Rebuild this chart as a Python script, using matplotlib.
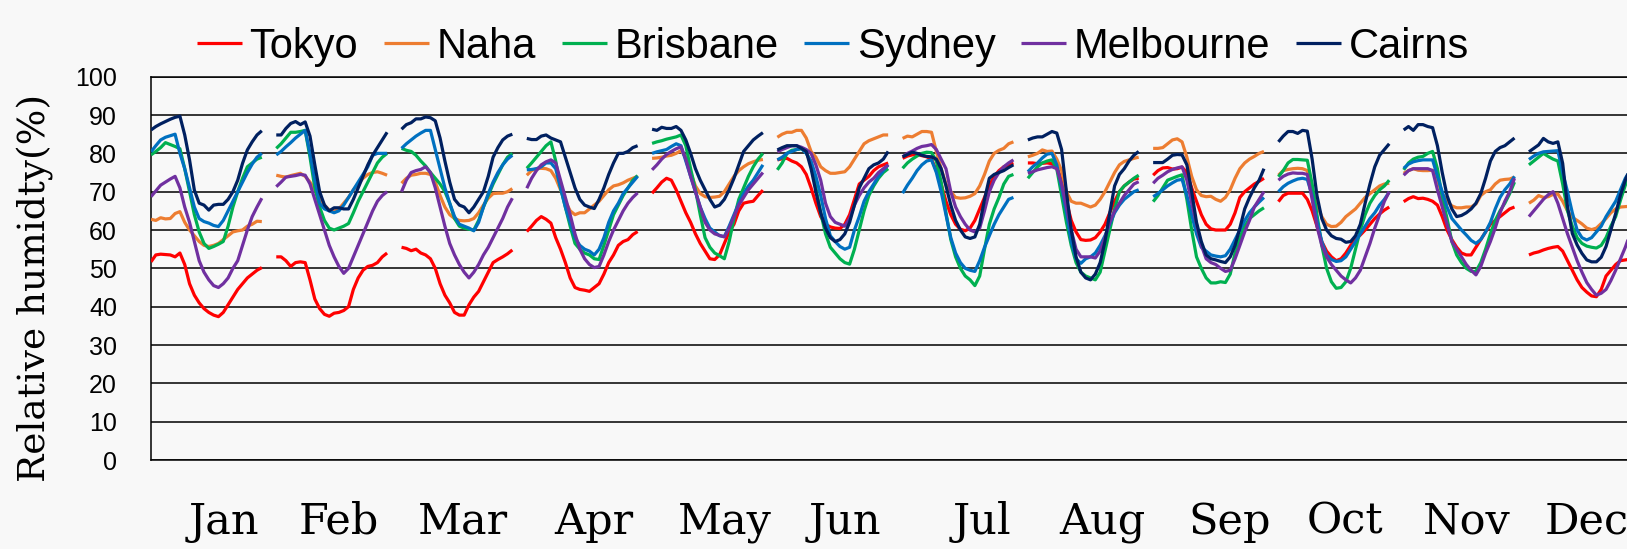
import numpy as np
import matplotlib
matplotlib.use("Agg")
import matplotlib.pyplot as plt

months = ["Jan", "Feb", "Mar", "Apr", "May", "Jun", "Jul", "Aug", "Sep", "Oct", "Nov", "Dec"]
cities = ["Tokyo", "Naha", "Brisbane", "Sydney", "Melbourne", "Cairns"]
colors = ["#FF0000", "#ED7D31", "#00B050", "#0070C0", "#7030A0", "#002060"]

# hourly relative humidity (24 values per month)
tokyo = [
    [51.7,53.5,53.7,53.6,53.5,53,54,51,46,43,41,39.5,38.5,37.8,37.4,38.5,40.5,42.5,44.5,46,47.5,48.5,49.5,50.2],
    [53,53,52,50.5,51.5,51.7,51.5,47,42,39.5,38,37.5,38.3,38.5,39,40,44.5,47.5,49.5,50.5,50.8,51.5,53,54],
    [55.5,55.2,54.6,55,54,53.5,52.5,50,46,43,41,38.5,37.8,37.8,40.5,42.5,44,46.5,49,51.5,52.3,53,53.8,54.8],
    [59.6,61,62.5,63.5,62.8,61.8,58,55,51.5,47.5,45,44.5,44.3,44,45,46,48.5,51.5,53.5,56,57,57.5,58.8,59.6],
    [69.6,71,72.5,73.5,73,70.5,67.5,64.5,62,59,56.5,54.5,52.5,52.3,53.5,56.5,59.5,61.5,65,67,67.3,67.5,69,70.4],
    [78.3,78.6,78.7,78,77.5,76.5,74.5,71,67,63.5,61.5,60.8,60.5,60.4,61.5,64,68,72,73,74,75.5,76.5,77,77.5],
    [78.7,79.3,79.6,79.7,79.4,79.1,78.5,75.5,72,67.5,64,61.5,60.2,59.8,60.5,62.5,65.5,68.5,71.5,74,75.5,76.5,77,77.5],
    [77.5,77.5,77.3,77.4,77.5,77.3,76.5,73,67.5,62.5,59.5,57.5,57.3,57.4,58,59.5,61.5,64.5,67.5,70,71.5,72.5,73.3,73.5],
    [74.3,75.5,76.2,76.3,75.9,76,76.4,75,71,67.5,64,61.5,60.3,60,60,60,61.5,64.5,68.5,70,71,72,72.7,73.5],
    [67.4,69,69.6,69.6,69.6,69.6,68,65,61,57,54.5,53,52,52.5,54,56,57.5,58.7,60,61.5,63,64.2,65.2,66],
    [67.4,68.2,68.7,68.2,68.3,68,67.5,66.5,63.5,60,57.5,55.5,54,53.5,53.5,55.5,57.5,59.5,61.5,62.5,63.5,64.5,65.5,66],
    [53.5,54,54.3,54.8,55.2,55.5,55.7,54.5,52,49.5,47,45,43.8,42.8,42.6,44.5,48,49.5,51,52,52.2,52.4,52.6,53],
]
naha = [
    [62.8,62.5,63.2,62.9,63,64.3,64.8,62,60,58.5,57,56,55.7,56,56.5,57.5,58.5,59.5,59.8,60,61,61.5,62.3,62.2],
    [74.3,74,73.8,74.2,74.5,74.8,74,72.5,70.5,68.5,66.5,65.2,65,65.5,67,68.5,70.5,72,73.5,74.5,75,75.2,74.8,74.3],
    [72.2,73.5,74.3,74.5,74.8,74.8,74.5,72.5,69,66,64,63,62.5,62.4,62.5,63,64.5,66.5,68.3,69.5,69.6,69.6,70,70.8],
    [74.3,75.5,76,76.1,76,75.5,73.5,70.5,67.5,65,64,64.5,64.5,65.5,66.5,67.5,69,70.5,71.5,71.8,72.3,73,73.5,74],
    [78.7,78.8,79,79.3,79.5,80,80.7,79,75,71.5,69.5,68.7,68.5,68.6,68.8,70,72,74,75.5,76.5,77.3,77.8,78.2,78.4],
    [84.2,85,85.5,85.5,86,86,84,80.5,79,76.5,75.5,74.8,74.8,75,75.2,76.5,78.5,80.5,82.5,83.3,83.8,84.3,84.8,84.8],
    [83.9,84.5,84.3,85,85.7,85.7,85.5,80.5,76,72,70,68.5,68.3,68.4,68.8,69.5,71.5,74.5,78,80,80.8,81.3,82.5,83],
    [79.1,79.5,80,80.9,80.5,80.6,78.5,75.5,70,67.5,67,67,66.5,66,66.5,68,70,72.5,75,77,77.9,78.3,78.7,79],
    [81.3,81.3,81.5,82.5,83.5,83.8,83,79,74,70.5,69,68.7,68.8,68,67.5,68.5,70.5,73.5,76,77.5,78.5,79.2,80,80.5],
    [74.3,75.5,75.8,76,76.1,76,75.5,70,66.5,63.5,61.5,60.9,61,62,63.5,64.5,65.5,67,68.5,69.5,70.5,71.5,72,72.2],
    [74.8,75.5,76,75.6,75.5,75.5,75.6,73,69.5,67.5,66.3,65.8,65.8,66,66,66.8,69,70,70.5,72,73,73.2,73.3,73.8],
    [67,67.8,69,68.5,68.7,69.3,69.4,67.5,65,63.3,62.5,61.6,60.5,60.1,60.5,61.7,63,64.5,65.5,66,66.1,66.2,66.3,66.5],
]
brisbane = [
    [79.6,80.5,81.5,82.8,82.3,81.8,81.2,76,70,64,59.5,56.5,55.2,55.7,56.3,57,61,66,70,73.5,76.5,77.5,78.5,79],
    [81.3,82.5,84,85.5,85.5,85.7,86,79,71,66,62.5,60.5,60,60.5,61,61.7,64.5,67.5,70,72.5,75,77.5,79,80],
    [81.3,80.8,80.5,79.5,78,76.7,75,73.5,72,70,67,63,61,60.5,60.2,60,62.5,66,69,72,74.5,77,79,80],
    [76.1,77.5,79,80.5,82,83,78,71,66,61,56.5,55,54,53.5,52.5,52.3,56,60,64,66.5,69,71,73,74.2],
    [82.6,83,83.3,83.7,84,84.3,84.8,82,76,70.5,64,58,55.5,54,53.3,52.5,57,63,68,71,74,76.5,78.5,80],
    [75.7,77.5,80,80.8,81,81.2,80.2,77.5,71,64.5,59,55.5,54,52.5,51.5,51.1,55,60,65,69,71.5,73.5,75,76],
    [76.1,77.5,78.5,79.3,80,80.3,80.2,78,72.5,64.5,57.5,53,50,48,47,45.5,48,55,61.5,65.5,68.5,72,74,74.5],
    [73.5,75,76.5,77.5,78,78.3,76,69,62,56,51.5,49,48,47.5,47,49,54.5,60,65.5,70,71.5,72.5,73.5,74.3],
    [67.4,69,71,73,73.5,74,74.4,68,60,53,50,47.5,46.2,46.2,46.5,46.3,48.5,54,58,61,63,64,65,65.8],
    [73.9,75.5,77.5,78.4,78.4,78.3,78.2,72,64,56,50,46.5,44.8,45,46.5,50,55,60,64,67,69,70.5,71.5,73],
    [75.7,77.5,78.5,79,79.2,80,80.5,76,68.5,63,57,53.5,51.5,50,49.2,49.2,51.5,55,59,62.5,65,67,69.5,72.5],
    [77,78,79,80,79.2,78.5,78,72,65,61,58,56.5,55.8,55.5,55.3,56,58,61,63.5,67.8,71.7,74,76,77.5],
]
sydney = [
    [80.4,82,83.5,84.2,84.6,85,80,76,71,66,63,62.2,61.8,61.2,60.9,62.5,65,67.5,70,72.5,75,77.2,79,80],
    [79.6,80.5,81.7,82.8,84,85,86,80,73,67,65.5,65,64.5,65,66.5,68.5,70.5,72.5,74.5,76.5,79.5,80,80,80],
    [81.3,82.5,83.5,84.5,85.3,86,86,81,76,71,67,63.5,61.5,61,60.5,59.8,62,66,69.5,72.5,75,77,78.5,79.5],
    [75.7,75.8,76,76.5,77.5,77.5,76,71,66,62,58,56,55,54.5,53.5,55,58,62,65,67,69.5,71,72.5,74],
    [80,80.4,80.7,81,81.8,82.5,82,78,74,70,66,63,60.5,59.5,58.5,58.3,61,64,67,69.5,71.5,73,75,77],
    [78.3,79,80,80.5,81,81.3,80,78,74,69,63,58.5,57,55.7,55,55.5,60,63.5,67.5,70,72,74,75.5,77],
    [69.6,71.7,73.5,75.5,77,78,78.3,75,70,64,58,54,51.5,50,49.5,49.2,52,55.5,58.5,61.5,64,66,68,68.5],
    [75.2,76.5,77.5,78.8,79.8,80,77,71,64.5,57,52.5,51.3,52.5,53,54,56,58.5,61.5,64.5,66.5,68,69,70,70.5],
    [68.7,69.5,70.5,71.5,72.3,73,73.2,69,64,59,55.5,54.5,53.5,53.2,53,53.3,55,57.5,60,62.5,64.5,66,67.3,68.5],
    [70,71.3,72.2,72.8,73.3,73.5,73.2,69,62.5,57,53.5,52.3,51.8,52,53,55,57,59,61,63,64.5,66.5,68,69.9],
    [76.1,77.2,77.8,78.1,78.3,78.3,78.3,74,70,66,63,61.5,60,58.7,57.3,56.5,57.5,59.5,62,65.5,68.5,70.5,72,74],
    [78.4,79.3,80,80.4,80.5,80.6,80.7,75,70,64.5,60,58,57.4,58,59.5,61,63.5,65.5,67.5,70.5,73.5,75.5,77,78],
]
melbourne = [
    [68.7,70.2,71.7,72.5,73.3,74,71,66,62,57,52,49,47,45.5,45,46,47.5,50,52,56,60,63.5,66,68.3],
    [71.3,72.5,73.8,74,74.2,74.5,74.3,72,68,64,60,56,53,50.5,48.7,50,53,56,59,62,65,67.5,69,70],
    [70,73,75,75.5,75.8,76.5,75,71,66,61,56.5,53.5,51,49,47.5,49,51,53.5,55.5,58,60.5,63,66,68.3],
    [70.9,73.5,75.5,77,77.8,78.3,77.5,73,68.5,64,59,55,52.5,51,50.2,50.5,53.5,57,60,62.5,65,67,68.5,69.7],
    [75.7,77,78.5,79.7,80.5,81.2,81.7,78.5,74,70,66,62,60,59,58.6,58.2,60.5,63.5,66.5,68.5,70.5,72,73.5,75],
    [80.4,81,81.5,82,82,81.6,81,80,77,73,67,63.5,62,61.5,61,63,66.5,69,71,72.5,73.5,75,76,77],
    [79.1,80,80.6,81.3,81.8,82,82.3,81,78.5,76,70,66,63.5,61.5,60,59.5,60.5,65,70,73,75,76.5,77.5,78.3],
    [74.8,75.2,75.7,76,76.3,76.5,76,72,66,60,55,53,53,53,52.7,54.5,58,62,65,67,69,70.5,72,72.6],
    [72.2,73.5,74.3,75.2,75.8,76.2,76.5,73,67,61.5,56,52.5,51.5,51,50,49.2,49.5,52.5,56,59.5,62.5,66,68,70],
    [73,74,74.6,74.9,74.8,74.8,74.5,68,61,56,53,51,49.5,48,47,46.2,47.5,49.5,53,56.5,60.5,64,67.5,70],
    [74.3,75.5,76,76,76,76,75.5,70.5,66,61.5,57,55,53,51,49.5,48.3,50.5,54,57,60.5,64.5,67.5,70,73.5],
    [63.5,65,66.5,68,69.2,70,67,63,59,55.5,52,49,46.3,44.5,43,43.5,44.5,46.8,49.5,52.5,55.5,59,62,65],
]
cairns = [
    [86.1,87,87.7,88.3,88.9,89.4,89.7,84.8,78.3,70.4,67,66.5,65.2,66.5,66.7,66.7,68,70,73,77.4,80.9,83,84.8,85.9],
    [84.8,84.8,86.5,87.8,88.3,87.5,88.2,84.5,77,70,66.5,65,65.8,65.8,65.5,65.5,68,71,74,77,79.5,81.5,83.5,85.5],
    [86.3,87.5,88,89,89,89.5,89.3,88.5,84,78,72.5,68,66.5,66,64.5,66,68,70,74,79,81.5,83.5,84.5,85],
    [83.9,83.6,83.6,84.5,84.8,84,83.5,83,79,75,71,68,66.5,66,65.6,68,71,74.5,77.5,80,80,80.5,81.5,82],
    [86.3,86,86.8,86.5,86.5,87,86,83.5,80,76,73,70.5,68,66,66.5,68,70.5,73.5,77,80.5,82,83.5,84.5,85.4],
    [80.9,81.5,82,82,82,81.3,80.5,76,70,64.5,60.5,58,57,57.5,59,62,66.5,71,73.5,76,77,77.5,78.5,80.5],
    [79.1,79.7,80.3,80,79.5,79.2,79.1,78.5,76,71.5,66.5,62.5,60,58.2,57.8,58.2,61.5,68,73.5,74.5,75,75.5,76.3,77],
    [83.5,84,84.3,84.3,85,85.7,85.3,81,70,60,53,49,47.5,47,48.5,51.5,57,64.5,71.5,74.5,76,78,79.5,80.5],
    [77.6,77.6,77.6,78.5,79.5,79.7,79.6,77,70,62,57,53.5,52.5,52.2,51.8,51.5,53,56,60.5,65.5,68.5,71,73,76],
    [83,84.5,85.7,85.7,85.2,86,85.8,78.5,69,63,60,58.5,57.8,57.6,56.8,57,58.5,61.5,67,72,76.5,79.5,81,82.5],
    [86.1,87,86,87.5,87.5,87,86.7,82,75,69,65.5,63.5,63.8,64.5,65.5,67,69.5,73.5,78,80.5,81.5,82,83,84],
    [80.4,81.3,82.2,83.9,83,82.6,83,77.4,66.1,59.1,56.1,53.9,52.2,51.7,51.7,52.9,55.7,60,64.3,69.1,73,76,79,81],
]
series = [tokyo, naha, brisbane, sydney, melbourne, cairns]

HOURS = 24
SLOT = 26  # 24 hours + 2 empty slots between months
label_offsets = [15.2, 13.0, 12.7, 13.9, 15.0, 14.1, 16.5, 15.4, 15.8, 13.9, 13.0, 12.0]

W, H = 1627, 549
bg = "#f8f8f8"
fig = plt.figure(figsize=(W / 100, H / 100), dpi=100, facecolor=bg)
left_px, right_px, top_px, bot_px = 151, 1627, 76.7, 460
ax = fig.add_axes([left_px / W, (H - bot_px) / H, (right_px - left_px) / W, (bot_px - top_px) / H])
ax.set_facecolor(bg)

x = np.arange(len(months) * SLOT)
handles = []
for name, data, col in zip(cities, series, colors):
    y = np.full(len(x), np.nan)
    for m, vals in enumerate(data):
        y[m * SLOT:m * SLOT + HOURS] = vals
    h, = ax.plot(x, y, color=col, lw=2.3, label=name, solid_capstyle="butt", zorder=3)
    handles.append(h)

ax.set_xlim(0, (right_px - left_px) / 4.818)
ax.set_ylim(0, 100)
ax.set_yticks(np.arange(0, 101, 10))
ax.yaxis.grid(True, color="black", lw=1.1, zorder=1)
ax.set_axisbelow(True)
for s in ["left", "bottom", "top"]:
    ax.spines[s].set_color("black")
    ax.spines[s].set_linewidth(1.1)
ax.spines["right"].set_visible(False)

ax.tick_params(axis="y", length=0, pad=24.5, labelsize=18)
for lab in ax.get_yticklabels():
    lab.set_fontfamily("Liberation Sans")

ax.set_xticks([m * SLOT + off for m, off in enumerate(label_offsets)])
ax.set_xticklabels(months, fontsize=31, fontfamily="DejaVu Serif", va="baseline")
ax.tick_params(axis="x", length=0, pad=53)

fig.text(35.5 / W, 1 - 288 / H, "Relative humidty(%)", rotation=90, ha="center", va="center",
         fontsize=27, fontfamily="DejaVu Serif")

fig.legend(handles=handles, loc="center", ncol=6, frameon=False,
           bbox_to_anchor=(833 / W, 1 - 47 / H),
           prop={"family": "Liberation Sans", "size": 30},
           handlelength=1.08, handletextpad=0.18, columnspacing=0.62)

fig.savefig("out.png", dpi=100, facecolor=bg)
